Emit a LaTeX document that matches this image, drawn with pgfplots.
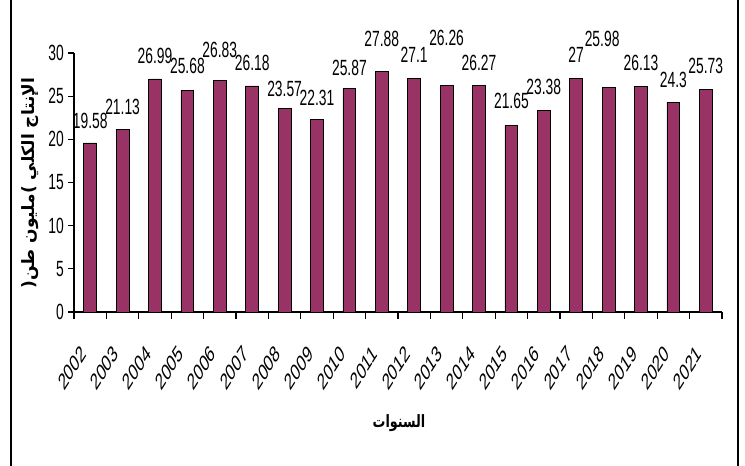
\documentclass[border=0pt]{standalone}
\usepackage{pgfplots}
\pgfplotsset{compat=1.18}
\usepackage{pgfplotstable}
\usepackage{fontspec}
\setmainfont{Liberation Sans}
\newfontfamily\arabicfont[Script=Arabic]{DejaVu Sans}
\TeXXeTstate=1
\definecolor{barcol}{RGB}{153,51,102}

\pgfplotstableread{
x val
0 19.58
1 21.13
2 26.99
3 25.68
4 26.83
5 26.18
6 23.57
7 22.31
8 25.87
9 27.88
10 27.1
11 26.26
12 26.27
13 21.65
14 23.38
15 27
16 25.98
17 26.13
18 24.3
19 25.73
}\prodtable

\pgfplotstableread{
x ly lab
0 22.1 19.58
1 23.75 21.13
2 29.7 26.99
3 28.46 25.68
4 30.4 26.83
5 28.85 26.18
6 25.84 23.57
7 24.8 22.31
8 28.27 25.87
9 31.6 27.88
10 29.8 27.1
11 31.75 26.26
12 28.85 26.27
13 24.4 21.65
14 26.07 23.38
15 29.8 27
15.8 31.6 25.98
17 28.85 26.13
18 26.9 24.3
19 28.46 25.73
}\labtable

\begin{document}
\begin{tikzpicture}
\useasboundingbox (0,0) rectangle (745pt,466pt);
\begin{axis}[
  at={(74pt,154pt)}, anchor=south west,
  scale only axis, width=648pt, height=259pt,
  xmin=-0.5, xmax=19.5, ymin=0, ymax=30,
  clip=false,
  axis lines*=left,
  axis line style={line width=1.2pt, black},
  tick style={line width=1.2pt, black},
  tick align=outside,
  major tick length=6pt,
  minor tick length=7pt,
  xtick={0,...,19},
  xticklabels={2002,2003,2004,2005,2006,2007,2008,2009,2010,2011,2012,2013,2014,2015,2016,2017,2018,2019,2020,2021},
  major x tick style={draw=none},
  minor xtick={-0.5,0.5,...,19.5},
  ytick={0,5,...,30},
  /pgf/number format/assume math mode=true,
  tick label style={font=\fontsize{22}{24}\selectfont},
  yticklabel style={xshift=-2pt, xscale=0.63, anchor=east},
  xticklabel style={xshift=-6.7pt, yshift=-31.8pt, cm={0.4455,0.7071,-0.4455,0.7071,(0,0)}, anchor=east, inner sep=0pt, font=\fontsize{23}{25}\selectfont},
  xlabel={\arabicfont\bfseries السنوات},
  xlabel style={at={(axis description cs:0.5015,-0.4286)}, anchor=center, font=\fontsize{17}{19}\selectfont, xscale=0.75},
  ylabel={\arabicfont\bfseries\beginR الإنتاج الكلي \kern0pt)\kern0pt مليون طن\kern0pt(\endR},
  ylabel style={at={(axis description cs:-0.068,0.498)}, anchor=center, rotate=0, font=\fontsize{17}{19}\selectfont},
]
\addplot[ybar, bar width=0.4, fill=barcol, draw=black, line width=0.8pt] table[x=x, y=val] {\prodtable};
\addplot[draw=none, mark=none, nodes near coords, point meta=explicit symbolic,
  nodes near coords style={anchor=center, xscale=0.63, font=\fontsize{22}{24}\selectfont, inner sep=0pt}]
  table[x=x, y=ly, meta=lab] {\labtable};
\end{axis}
\draw[line width=1.5pt] (11pt,0) -- (11pt,466pt);
\draw[line width=1.5pt] (738pt,0) -- (738pt,466pt);
\end{tikzpicture}
\end{document}
